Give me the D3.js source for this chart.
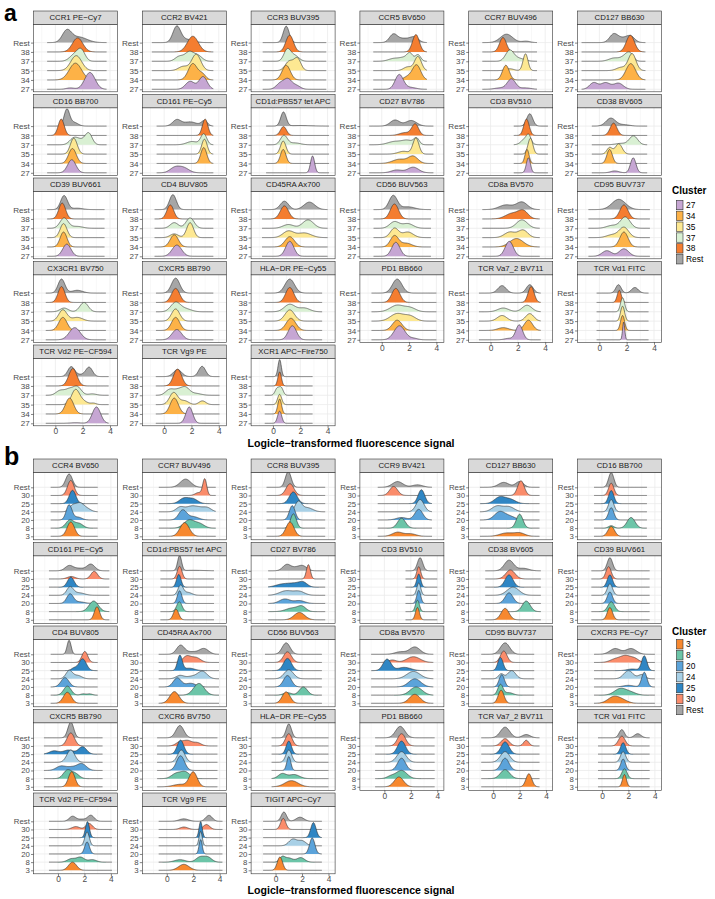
<!DOCTYPE html>
<html><head><meta charset="utf-8">
<script src="https://cdn.jsdelivr.net/npm/d3@7"></script>
<style>body{margin:0;background:#fff}svg{display:block}text{font-family:"Liberation Sans",Arial,sans-serif}</style>
</head><body><svg id="c" width="715" height="899"></svg>
<script>
// ---------- DATA ----------
const clustersA = ["27","34","35","37","38","Rest"];
const ridgeOrderA = ["Rest","38","37","35","34","27"];
const colorsA = ["#C6A6D3","#FDB247","#FDE892","#D9F0D3","#F47D30","#A6A6A6"];
const clustersB = ["3","8","20","24","25","30","Rest"];
const ridgeOrderB = ["Rest","30","25","24","20","8","3"];
const colorsB = ["#F7882F","#6CC5A8","#5BA3DA","#A8D0E6","#2F86C4","#FA8C6B","#A6A6A6"];
const xTicks = [0,2,4];
const xMinor = [-1,1,3];
const xDomainA = [-1.6,4.55];
const xDomainB = [-1.85,4.5];
const axisTitle = "Logicle\u2212transformed fluorescence signal";

const markersA = ["CCR1 PE\u2212Cy7","CCR2 BV421","CCR3 BUV395","CCR5 BV650","CCR7 BUV496","CD127 BB630",
 "CD16 BB700","CD161 PE\u2212Cy5","CD1d:PBS57 tet APC","CD27 BV786","CD3 BV510","CD38 BV605",
 "CD39 BUV661","CD4 BUV805","CD45RA Ax700","CD56 BUV563","CD8a BV570","CD95 BUV737",
 "CX3CR1 BV750","CXCR5 BB790","HLA\u2212DR PE\u2212Cy55","PD1 BB660","TCR Va7_2 BV711","TCR Vd1 FITC",
 "TCR Vd2 PE\u2212CF594","TCR Vg9 PE","XCR1 APC\u2212Fire750"];
const rangesA = [[-0.6,3.75],[-0.9,3.6],[-0.75,3.9],[-0.62,3.3],[-0.6,3.4],[-1.3,3.37],
 [-0.6,3.75],[-0.55,3.6],[-0.5,4.1],[-0.92,3.78],[1.7,4.2],[-0.55,3.5],
 [-0.6,3.6],[-0.7,3.6],[-0.8,4.0],[-0.6,3.6],[-0.6,3.6],[-0.8,3.7],
 [-0.7,3.7],[-0.6,3.6],[-0.6,3.6],[-0.75,4.0],[-0.85,3.67],[-0.2,3.6],
 [-0.7,3.9],[-0.61,4.05],[-0.6,2.9]];
// each ridge (order Rest,38,37,35,34,27): peaks [centre, width, height in ridge-spacings]
const ridgesA = [
 [[[0.84,0.33,1.2],[1.7,0.6,0.6]],[[1.63,0.38,1.5]],[[1.4,0.35,0.7],[1.9,0.28,1.1]],[[1.53,0.4,1.6]],[[1.47,0.45,1.8]],[[2.53,0.38,1.8],[1.1,0.3,0.15]]],
 [[[0.92,0.28,1.65],[1.6,0.5,0.35]],[[2.1,0.4,1.68]],[[1.1,0.3,0.5],[1.85,0.33,1.0],[2.5,0.3,0.55]],[[2.35,0.33,1.75],[1.4,0.35,0.45]],[[2.1,0.33,1.75],[2.8,0.25,0.6]],[[1.9,0.33,0.85],[2.85,0.3,1.35]]],
 [[[0.97,0.22,1.75]],[[1.22,0.28,1.79]],[[1.05,0.25,1.25],[1.6,0.3,0.6]],[[1.2,0.3,1.0],[1.8,0.25,1.25]],[[0.97,0.3,1.57]],[[0.55,0.3,0.65],[1.1,0.28,1.0],[1.7,0.3,0.4]]],
 [[[0.84,0.28,0.8],[1.6,0.5,0.45],[2.4,0.3,0.5]],[[2.5,0.25,1.86]],[[0.9,0.4,0.3],[1.7,0.35,0.4],[2.07,0.2,0.7],[2.65,0.2,0.7]],[[2.65,0.25,1.5],[1.9,0.3,0.4]],[[2.55,0.3,1.6],[1.9,0.3,0.35]],[[1.28,0.3,1.57],[2.1,0.4,0.2]]],
 [[[1.17,0.45,0.9],[2.6,0.3,0.15]],[[0.91,0.25,1.54]],[[1.4,0.3,1.15],[2.1,0.4,0.3]],[[2.56,0.18,1.8],[1.4,0.3,0.2]],[[1.12,0.25,1.57]],[[1.53,0.3,1.1],[0.7,0.4,0.15],[2.55,0.4,0.15]]],
 [[[1.04,0.3,0.85],[1.7,0.4,0.45],[2.3,0.3,0.6]],[[2.27,0.3,1.79]],[[1.1,0.4,0.35],[1.9,0.3,0.5],[2.25,0.25,0.7]],[[2.4,0.28,1.8],[1.6,0.35,0.35]],[[2.3,0.35,1.75]],[[-0.42,0.3,0.7],[0.45,0.35,0.7],[1.4,0.35,0.65]]],
 [[[0.84,0.2,1.75],[1.35,0.3,0.4]],[[0.43,0.22,1.75]],[[1.33,0.3,0.6],[1.9,0.4,0.5],[2.45,0.25,1.1]],[[1.35,0.25,1.7]],[[1.25,0.28,1.6]],[[1.2,0.3,1.4]]],
 [[[0.92,0.3,0.65],[1.9,0.5,0.45],[2.95,0.22,0.55]],[[3.0,0.2,1.75]],[[2.05,0.4,0.35],[2.9,0.22,1.15]],[[2.95,0.2,1.6]],[[2.9,0.22,1.7]],[[0.75,0.35,0.5],[1.4,0.4,0.55]]],
 [[[0.77,0.2,1.5],[2.0,0.8,0.06]],[[0.77,0.22,0.95]],[[0.8,0.25,1.0],[1.6,0.4,0.2]],[[0.75,0.2,1.4]],[[0.75,0.2,1.5]],[[2.9,0.15,1.8]]],
 [[[0.97,0.35,0.65],[2.15,0.4,0.6]],[[1.7,0.4,0.3],[2.45,0.25,1.2]],[[0.95,0.5,0.35],[1.9,0.4,0.45],[2.55,0.2,0.65]],[[2.5,0.22,1.7],[1.6,0.4,0.3]],[[1.3,0.5,0.45],[2.3,0.35,0.75]],[[1.1,0.4,0.3],[2.3,0.4,0.6]]],
 [[[2.87,0.22,1.32]],[[2.63,0.2,1.75]],[[2.58,0.3,0.7],[2.8,0.15,0.6]],[[2.92,0.18,1.7]],[[2.67,0.15,1.5]],[[2.77,0.15,1.6]]],
 [[[0.84,0.35,0.85],[1.8,0.4,0.15]],[[1.04,0.25,1.32]],[[2.5,0.3,0.95],[1.6,0.4,0.15]],[[0.75,0.2,0.7],[1.42,0.25,1.1]],[[0.75,0.2,1.5]],[[2.48,0.2,1.6],[1.13,0.3,0.2]]],
 [[[0.64,0.25,1.5],[1.6,0.4,0.15]],[[0.5,0.25,1.7]],[[0.64,0.3,1.1],[1.6,0.4,0.2]],[[0.6,0.25,1.5]],[[0.6,0.25,1.6]],[[0.84,0.3,1.3]]],
 [[[0.64,0.25,1.6]],[[0.45,0.25,1.5]],[[0.74,0.3,0.6],[1.9,0.3,1.1]],[[1.9,0.25,1.6],[0.74,0.3,0.4]],[[0.74,0.3,1.3]],[[0.93,0.35,1.2]]],
 [[[0.84,0.3,0.9],[2.67,0.4,0.8]],[[0.84,0.3,1.4]],[[1.13,0.4,0.4],[2.57,0.4,0.9]],[[1.13,0.4,0.7],[2.3,0.5,0.5]],[[1.23,0.35,1.1]],[[1.23,0.3,1.6]]],
 [[[0.84,0.3,1.5],[1.9,0.5,0.3]],[[0.93,0.3,1.6]],[[0.93,0.35,0.7],[1.9,0.4,0.5]],[[0.93,0.3,1.0],[1.9,0.4,0.6]],[[0.93,0.3,1.2],[1.8,0.4,0.4]],[[1.03,0.3,1.5]]],
 [[[1.13,0.5,0.5],[2.3,0.4,0.8]],[[1.6,0.5,0.6],[2.4,0.35,0.8]],[[2.3,0.4,0.9]],[[1.42,0.4,0.6],[2.38,0.35,0.8]],[[1.9,0.5,0.9]],[[1.37,0.3,1.6]]],
 [[[1.42,0.5,1.1]],[[1.8,0.3,1.5]],[[1.9,0.35,1.2],[0.93,0.4,0.3]],[[1.8,0.35,1.1],[0.93,0.4,0.3]],[[1.8,0.3,1.6]],[[0.55,0.35,0.6],[1.8,0.35,0.8]]],
 [[[0.45,0.25,1.5],[1.6,0.4,0.3]],[[0.45,0.25,1.7]],[[0.64,0.3,0.4],[2.1,0.3,1.0]],[[0.55,0.3,1.2],[1.6,0.4,0.4]],[[0.55,0.3,1.4]],[[1.42,0.4,1.3]]],
 [[[0.84,0.3,1.6]],[[0.84,0.3,1.5]],[[0.84,0.35,1.0],[1.6,0.4,0.3]],[[0.84,0.3,1.3]],[[0.84,0.3,1.4]],[[0.93,0.35,1.1]]],
 [[[1.23,0.35,1.5]],[[1.23,0.3,1.6]],[[1.23,0.4,0.8],[2.3,0.4,0.4]],[[1.23,0.35,1.2]],[[1.32,0.35,1.3]],[[1.42,0.3,1.5]]],
 [[[1.13,0.35,1.5]],[[1.03,0.3,1.5]],[[1.13,0.5,0.7],[2.1,0.4,0.4]],[[1.13,0.5,0.8],[2.1,0.4,0.5]],[[1.13,0.35,1.1]],[[1.3,0.4,1.5],[2.35,0.3,0.15]]],
 [[[0.84,0.3,0.8],[2.87,0.25,0.9]],[[2.97,0.22,1.7]],[[0.93,0.4,0.4],[2.67,0.35,0.7]],[[0.84,0.35,0.6],[2.87,0.3,0.8]],[[2.77,0.3,1.1],[0.93,0.4,0.3]],[[2.1,0.25,1.6],[1.32,0.3,0.15]]],
 [[[1.4,0.2,0.9],[2.6,0.25,0.6]],[[1.46,0.15,1.3]],[[1.7,0.15,1.5]],[[1.7,0.15,1.6]],[[1.7,0.15,1.6]],[[1.78,0.08,1.9]]],
 [[[1.16,0.25,1.05],[2.47,0.25,1.0],[1.8,0.3,0.2]],[[1.28,0.3,1.86]],[[0.35,0.3,0.5],[1.0,0.3,0.6],[1.6,0.3,0.9],[2.7,0.3,0.15]],[[1.48,0.3,1.6],[2.1,0.3,0.3],[2.8,0.2,0.15]],[[1.04,0.3,1.7]],[[3.01,0.3,1.75],[1.5,0.4,0.06]]],
 [[[0.98,0.3,0.75],[2.78,0.25,1.1]],[[0.98,0.3,1.8]],[[0.4,0.3,0.6],[1.0,0.3,0.5],[1.55,0.3,0.8],[2.3,0.4,0.2]],[[0.7,0.3,1.3],[1.5,0.3,0.4],[2.8,0.25,0.4]],[[0.74,0.3,1.7]],[[1.84,0.25,1.75]]],
 [[[0.49,0.12,1.82]],[[0.49,0.13,1.5]],[[0.3,0.15,0.7],[0.6,0.15,0.8]],[[0.49,0.15,1.1]],[[0.49,0.14,1.6]],[[0.49,0.15,1.3]]]
];

const markersB = ["CCR4 BV650","CCR7 BUV496","CCR8 BUV395","CCR9 BV421","CD127 BB630","CD16 BB700",
 "CD161 PE\u2212Cy5","CD1d:PBS57 tet APC","CD27 BV786","CD3 BV510","CD38 BV605","CD39 BUV661",
 "CD4 BUV805","CD45RA Ax700","CD56 BUV563","CD8a BV570","CD95 BUV737","CXCR3 PE\u2212Cy7",
 "CXCR5 BB790","CXCR6 BV750","HLA\u2212DR PE\u2212Cy55","PD1 BB660","TCR Va7_2 BV711","TCR Vd1 FITC",
 "TCR Vd2 PE\u2212CF594","TCR Vg9 PE","TIGIT APC\u2212Cy7"];
const rangesB = [[-0.55,3.0],[-0.6,3.7],[-0.68,3.75],[-0.5,3.6],[-1.0,3.5],[-0.6,3.4],
 [-0.68,3.88],[-0.48,3.57],[-0.56,3.75],[1.6,4.0],[-0.6,3.6],[-0.8,3.6],
 [-0.55,3.0],[-0.61,3.95],[-0.8,3.5],[-1.0,3.7],[-0.9,3.1],[-0.6,4.0],
 [-1.06,3.37],[-0.73,3.83],[-0.3,4.0],[-0.7,3.8],[-0.9,3.5],[-0.3,3.6],
 [-0.68,4.08],[-0.61,4.21],[-0.94,3.5]];
// each ridge (order Rest,30,25,24,20,8,3)
const ridgesB = [
 [[[0.84,0.25,1.63]],[[0.97,0.25,1.84]],[[1.1,0.25,1.63]],[[1.1,0.25,0.7],[1.65,0.3,1.0],[2.2,0.3,0.35]],[[0.84,0.22,1.84],[1.5,0.3,0.35]],[[0.9,0.3,1.0],[1.6,0.3,0.55]],[[0.97,0.28,1.75]]],
 [[[1.42,0.4,1.0]],[[2.87,0.15,2.0],[2.4,0.25,0.35]],[[1.3,0.35,0.65],[2.0,0.35,0.55]],[[1.0,0.3,0.55],[1.8,0.4,0.6],[2.5,0.4,0.45],[3.1,0.3,0.4]],[[1.2,0.3,1.2],[2.0,0.4,0.4]],[[1.7,0.4,1.0],[2.5,0.35,0.5]],[[1.35,0.35,1.67]]],
 [[[0.96,0.22,1.92]],[[1.09,0.3,1.43]],[[1.34,0.3,1.43]],[[1.72,0.25,1.2],[2.4,0.4,0.5]],[[1.26,0.22,1.75]],[[1.35,0.22,1.75]],[[1.09,0.3,1.75]]],
 [[[1.0,0.4,0.7],[2.5,0.4,0.3]],[[0.7,0.3,1.1]],[[2.8,0.25,1.7]],[[2.7,0.3,1.5]],[[2.6,0.3,1.3],[1.3,0.4,0.3]],[[1.3,0.3,1.2]],[[1.0,0.4,0.5],[2.0,0.4,0.3]]],
 [[[0.8,0.4,0.6],[2.0,0.3,0.7]],[[2.1,0.25,1.8]],[[0.5,0.4,0.8],[1.3,0.4,0.5]],[[0.3,0.4,0.7],[1.2,0.4,0.6]],[[0.5,0.4,1.0],[1.3,0.4,0.4]],[[2.0,0.25,1.7]],[[1.0,0.5,0.4],[2.0,0.4,0.4]]],
 [[[0.7,0.2,1.8]],[[0.7,0.2,1.5]],[[0.7,0.2,1.6]],[[0.7,0.2,1.5]],[[0.7,0.2,1.5]],[[2.2,0.3,1.3],[0.7,0.2,0.3]],[[0.7,0.25,1.2]]],
 [[[0.84,0.3,0.61],[1.6,0.4,0.3],[2.49,0.3,0.8]],[[1.0,0.3,0.3],[2.74,0.25,0.94]],[[0.97,0.25,1.22]],[[0.91,0.25,1.0],[1.6,0.4,0.3]],[[0.91,0.25,1.14],[1.6,0.4,0.2]],[[2.7,0.35,1.3]],[[2.95,0.2,1.6]]],
 [[[0.97,0.15,1.84],[2.0,0.8,0.06]],[[0.97,0.18,1.55]],[[0.91,0.17,1.55]],[[1.04,0.2,1.2],[1.6,0.3,0.35]],[[0.97,0.17,1.55]],[[0.95,0.2,1.2]],[[0.7,0.2,1.3]]],
 [[[0.84,0.3,0.73],[1.6,0.4,0.4],[2.1,0.3,0.45]],[[2.48,0.15,1.75]],[[0.5,0.5,0.35],[1.5,0.5,0.45],[2.1,0.3,0.45]],[[0.8,0.5,0.55],[1.8,0.4,0.45]],[[0.7,0.4,0.55],[1.8,0.4,0.35]],[[1.3,0.5,0.45],[2.0,0.3,0.55]],[[1.8,0.4,0.9]]],
 [[[2.7,0.2,1.6]],[[2.6,0.15,1.5]],[[2.6,0.15,1.6]],[[2.6,0.15,1.5]],[[2.6,0.15,1.6]],[[2.5,0.15,1.4]],[[2.5,0.15,1.5]]],
 [[[1.2,0.35,1.3],[2.3,0.4,0.3]],[[1.3,0.35,1.1]],[[1.2,0.3,1.5]],[[1.5,0.45,1.0]],[[1.2,0.3,1.3]],[[2.5,0.3,1.3]],[[0.9,0.3,1.4]]],
 [[[0.6,0.2,1.6]],[[0.5,0.2,1.5]],[[0.6,0.2,1.5]],[[0.6,0.2,1.4]],[[0.6,0.2,1.4]],[[0.7,0.25,1.2]],[[0.6,0.2,1.5]]],
 [[[0.84,0.15,1.71]],[[2.03,0.22,1.35]],[[1.86,0.28,1.45],[1.2,0.2,0.3]],[[0.85,0.25,1.0],[1.5,0.3,0.4]],[[0.53,0.3,1.14]],[[0.71,0.28,1.1],[1.9,0.2,0.15],[2.4,0.2,0.15]],[[0.71,0.3,1.35]]],
 [[[1.04,0.3,1.1],[2.81,0.35,0.7],[1.9,0.4,0.3]],[[1.5,0.3,0.75],[2.2,0.35,0.6]],[[0.99,0.18,1.84],[1.7,0.4,0.3]],[[1.0,0.3,0.4],[2.7,0.35,0.9],[1.9,0.4,0.3]],[[0.79,0.3,1.1],[1.8,0.4,0.45]],[[2.43,0.4,1.43]],[[0.58,0.35,1.43]]],
 [[[0.8,0.3,1.4]],[[0.9,0.3,1.3]],[[0.9,0.3,1.5]],[[1.0,0.35,1.1]],[[0.9,0.3,1.4]],[[2.1,0.3,1.0],[0.9,0.3,0.3]],[[0.8,0.3,1.4]]],
 [[[2.3,0.4,0.9],[1.2,0.4,0.3]],[[2.2,0.5,0.7],[0.6,0.3,0.3]],[[0.2,0.3,1.4],[1.5,0.5,0.4]],[[2.2,0.5,0.9]],[[2.3,0.45,1.0]],[[2.4,0.45,1.0]],[[2.3,0.4,1.1]]],
 [[[0.9,0.35,1.4]],[[0.8,0.25,1.4]],[[0.55,0.2,1.6]],[[0.6,0.2,0.6],[1.4,0.3,1.0]],[[0.65,0.2,1.5]],[[0.55,0.2,1.3],[1.2,0.3,0.3]],[[0.6,0.22,1.6]]],
 [[[1.0,0.4,0.7],[2.2,0.4,0.7]],[[1.0,0.4,0.4],[1.8,0.4,0.8],[2.5,0.3,0.4]],[[3.2,0.2,1.8],[2.3,0.4,0.2]],[[2.0,0.35,1.0],[3.0,0.25,0.5]],[[3.2,0.2,1.8],[2.0,0.4,0.2]],[[1.4,0.45,0.8],[2.2,0.4,0.3]],[[0.9,0.45,0.8],[1.6,0.4,0.3]]],
 [[[0.97,0.22,1.92]],[[0.97,0.28,1.59]],[[-0.3,0.35,0.4],[0.8,0.4,0.5],[1.86,0.3,0.9]],[[0.97,0.3,1.5]],[[0.2,0.35,0.5],[1.0,0.4,0.4],[1.8,0.35,0.8]],[[0.7,0.3,1.0],[1.3,0.3,0.6]],[[1.04,0.25,1.84]]],
 [[[0.99,0.3,1.5]],[[1.0,0.3,0.5],[1.6,0.3,0.6],[2.3,0.3,0.4]],[[1.04,0.25,1.71]],[[1.1,0.28,1.5]],[[1.04,0.3,1.8]],[[0.7,0.35,0.6],[1.4,0.35,0.8]],[[2.0,0.3,1.8],[1.0,0.5,0.3]]],
 [[[1.0,0.2,1.7]],[[1.0,0.25,1.5]],[[1.0,0.2,1.6]],[[1.0,0.22,1.5]],[[1.0,0.15,1.7]],[[0.5,0.3,0.6],[1.4,0.4,0.5]],[[1.2,0.5,0.75]]],
 [[[1.2,0.35,1.4]],[[1.3,0.3,1.5]],[[1.3,0.3,1.6]],[[1.3,0.35,1.3]],[[1.3,0.3,1.5]],[[1.3,0.4,1.0],[0.5,0.3,0.3]],[[1.1,0.35,1.2]]],
 [[[0.9,0.35,1.3],[2.5,0.3,0.4]],[[0.9,0.3,0.9],[2.5,0.2,0.7]],[[0.9,0.3,1.5]],[[0.9,0.35,1.3]],[[0.9,0.3,1.5]],[[0.9,0.35,1.1]],[[2.7,0.22,1.6]]],
 [[[1.5,0.2,1.0],[2.7,0.25,0.5]],[[1.5,0.25,1.2]],[[1.6,0.2,1.4]],[[1.6,0.2,1.3]],[[1.6,0.18,1.4]],[[1.7,0.2,1.2]],[[1.7,0.15,1.5]]],
 [[[1.1,0.25,0.61],[2.49,0.25,0.73],[1.8,0.3,0.25]],[[1.35,0.3,0.35],[2.36,0.25,0.73]],[[2.23,0.15,1.96]],[[2.2,0.17,1.7]],[[2.2,0.18,1.47]],[[1.0,0.3,0.4],[1.7,0.3,0.6],[2.6,0.3,0.3]],[[1.1,0.3,1.0]]],
 [[[1.29,0.35,0.3],[3.19,0.25,0.73]],[[1.3,0.3,0.3],[3.0,0.25,0.6]],[[2.56,0.12,1.96]],[[2.56,0.12,1.75]],[[2.56,0.12,1.75]],[[1.0,0.4,0.3],[2.5,0.3,0.6],[3.1,0.3,0.6]],[[1.29,0.4,0.73]]],
 [[[0.63,0.2,1.14],[1.85,0.3,0.5]],[[0.58,0.2,1.35]],[[2.86,0.2,1.84]],[[1.3,0.3,0.8],[2.0,0.3,0.6]],[[2.77,0.2,1.96]],[[0.5,0.2,0.6],[1.0,0.3,0.5],[1.9,0.3,0.55]],[[0.33,0.2,1.63]]]
];

// ---------- DRAW ----------
const svg = d3.select("#c");
const FONT = '"Liberation Sans",Arial,sans-serif';
const colLeft = c => 33.5 + c*108.8;
const PW = 84, STRIP = 13.3, PH = 67.5, ROWSTEP = 83.5;

function dens(peaks, x){
  let s = 0;
  for (const [m,sd,h] of peaks){ const z=(x-m)/sd; s += h*Math.exp(-0.5*z*z); }
  return s;
}

function drawPanel(cfg){
  const colorOf = d3.scaleOrdinal().domain(cfg.clusters).range(cfg.colors);
  cfg.names.forEach((name,i)=>{
    const col = i%6, row = Math.floor(i/6);
    const L = colLeft(col);
    const sTop = cfg.top0 + row*ROWSTEP;
    const pTop = sTop + STRIP, pBot = pTop + PH;
    const x = d3.scaleLinear().domain(cfg.xDomain).range([L, L+PW]);
    const y = d3.scalePoint().domain(cfg.order).range([pTop+cfg.topOff, pBot-cfg.botOff]);
    const sp = y.step();
    const g = svg.append("g");
    g.append("rect").attr("x",L).attr("y",pTop).attr("width",PW).attr("height",PH).attr("fill","#fff");
    // grid
    xMinor.forEach(t=>{ if(t>cfg.xDomain[0]&&t<cfg.xDomain[1]) g.append("line").attr("x1",x(t)).attr("x2",x(t)).attr("y1",pTop).attr("y2",pBot).attr("stroke","#f0f0f0").attr("stroke-width",0.5);});
    xTicks.forEach(t=>{ g.append("line").attr("x1",x(t)).attr("x2",x(t)).attr("y1",pTop).attr("y2",pBot).attr("stroke","#ebebeb").attr("stroke-width",0.8);});
    cfg.order.forEach(k=>{ g.append("line").attr("x1",L).attr("x2",L+PW).attr("y1",y(k)).attr("y2",y(k)).attr("stroke","#ebebeb").attr("stroke-width",0.8);});
    // ridges (top to bottom so lower ones overlay)
    const [lo,hi] = cfg.ranges[i];
    const xs = d3.range(0,201).map(j=>lo+(hi-lo)*j/200);
    cfg.order.forEach((k,ri)=>{
      const peaks = cfg.ridges[i][ri];
      const base = y(k);
      const pts = xs.map(v=>[v, dens(peaks,v)]);
      const area = d3.area().x(d=>x(d[0])).y0(base).y1(d=>base - d[1]*sp);
      const line = d3.line().x(d=>x(d[0])).y(d=>base - d[1]*sp);
      g.append("path").attr("d",area(pts)).attr("fill",colorOf(k));
      g.append("path").attr("d",line(pts)).attr("fill","none").attr("stroke","#2b2b2b").attr("stroke-width",0.6);
    });
    g.append("rect").attr("x",L).attr("y",pTop).attr("width",PW).attr("height",PH).attr("fill","none").attr("stroke","#333").attr("stroke-width",0.6);
    // strip
    g.append("rect").attr("x",L).attr("y",sTop).attr("width",PW).attr("height",STRIP).attr("fill","#d9d9d9").attr("stroke","#333").attr("stroke-width",0.6);
    g.append("text").attr("x",L+PW/2).attr("y",sTop+STRIP/2+2.8).attr("text-anchor","middle").attr("font-size",7.8).attr("fill","#1a1a1a").text(name);
    // y axis
    const ya = g.append("g").attr("transform",`translate(${L},0)`).call(d3.axisLeft(y).tickSize(2.5).tickPadding(1.2));
    ya.select(".domain").remove();
    ya.selectAll("line").attr("stroke","#333").attr("stroke-width",0.6);
    ya.selectAll("text").attr("font-size",cfg.yFont).attr("fill","#4d4d4d").attr("font-family",FONT);
    // x axis
    if (row===4 || (row===3 && col>=3)){
      const xa = g.append("g").attr("transform",`translate(0,${pBot})`).call(d3.axisBottom(x).tickValues(xTicks).tickFormat(d3.format("d")).tickSize(2.5).tickPadding(0));
      xa.select(".domain").remove();
      xa.selectAll("line").attr("stroke","#333").attr("stroke-width",0.6);
      xa.selectAll("text").attr("font-size",8.4).attr("fill","#4d4d4d").attr("font-family",FONT);
    }
  });
  // axis title
  svg.append("text").attr("x",351).attr("y",cfg.titleY).attr("text-anchor","middle").attr("font-size",10.6).attr("font-weight","bold").attr("fill","#000").text(axisTitle);
  // panel letter
  svg.append("text").attr("x",4).attr("y",cfg.letterY).attr("font-size",cfg.letterSize).attr("font-weight","bold").attr("fill","#000").text(cfg.letter);
  // legend
  const lg = svg.append("g");
  lg.append("text").attr("x",672).attr("y",cfg.legTitleY).attr("font-size",10).attr("font-weight","bold").attr("fill","#000").text("Cluster");
  cfg.clusters.forEach((k,j)=>{
    const cy = cfg.legY0 + j*cfg.legStep;
    lg.append("rect").attr("x",676.5).attr("y",cy-4.7).attr("width",6.5).attr("height",9.4).attr("fill",colorOf(k)).attr("stroke","#333").attr("stroke-width",0.6);
    lg.append("text").attr("x",686).attr("y",cy+3).attr("font-size",8.4).attr("fill","#000").text(k);
  });
}

drawPanel({names:markersA, ranges:rangesA, ridges:ridgesA, order:ridgeOrderA, clusters:clustersA, colors:colorsA,
  xDomain:xDomainA, top0:11, topOff:18.3, botOff:2.5, titleY:446.5, letter:"a", letterY:20.5, letterSize:23, yFont:8.1,
  legTitleY:193.5, legY0:205, legStep:10.85});
drawPanel({names:markersB, ranges:rangesB, ridges:ridgesB, order:ridgeOrderB, clusters:clustersB, colors:colorsB,
  xDomain:xDomainB, top0:459, topOff:15, botOff:3.5, titleY:894, letter:"b", letterY:465, letterSize:25, yFont:7.8,
  legTitleY:634.5, legY0:644.3, legStep:10.95});
</script></body></html>
